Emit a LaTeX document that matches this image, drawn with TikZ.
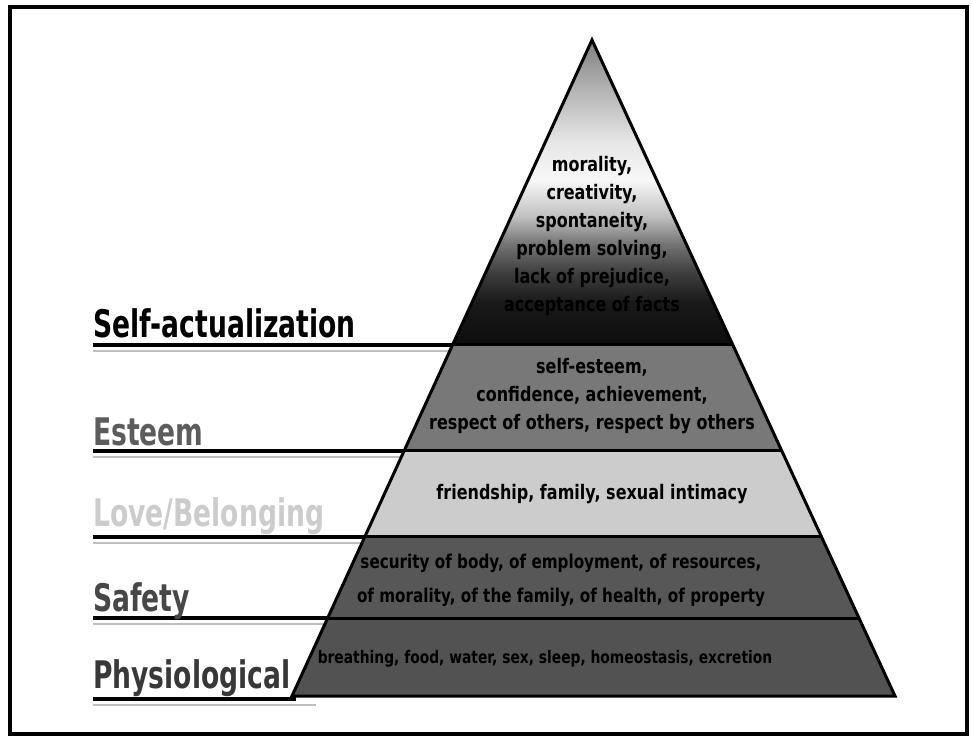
\documentclass[tikz,border=0pt]{standalone}
\usepackage{fontspec}
\newfontfamily\labfont[FakeStretch=0.7]{DejaVu Sans}
\newfontfamily\pyrfont[FakeStretch=0.8]{DejaVu Sans}
\usetikzlibrary{calc}
\definecolor{esteemc}{gray}{0.47}
\definecolor{lovec}{gray}{0.80}
\definecolor{safetyc}{gray}{0.34}
\definecolor{physc}{gray}{0.32}
\definecolor{labesteem}{gray}{0.36}
\definecolor{lablove}{gray}{0.80}
\definecolor{labsafety}{gray}{0.28}
\definecolor{labphys}{gray}{0.22}
\pgfdeclareverticalshading{selfact}{100bp}{color(0bp)=(black!95); color(25bp)=(black!95); color(32bp)=(black!90); color(37bp)=(black!75); color(41.5bp)=(black!55); color(46bp)=(black!25); color(52bp)=(black!3); color(58.5bp)=(black!10); color(67bp)=(black!30); color(75bp)=(black!50); color(100bp)=(black!50)}
\tikzset{
  pyrtext/.style={font=\pyrfont\bfseries\fontsize{20}{28}\selectfont, align=center, inner sep=0pt, text=black},
  labtext/.style={font=\labfont\bfseries\fontsize{38}{40}\selectfont, anchor=base west, inner sep=0pt},
  labline/.style={line width=3.5pt, black},
  shadline/.style={line width=1.2pt, black!25},
  edge/.style={line width=3pt, black, line join=miter}
}
\begin{document}
\begin{tikzpicture}[x=1pt,y=-1pt]
\useasboundingbox (0,0) rectangle (972,738);
\fill[white] (0,0) rectangle (972,738);
\draw[line width=4pt] (10,7) rectangle (967,734);
% geometry
\coordinate (A) at (592,40);
\coordinate (BL) at (292,696);
\coordinate (BR) at (895,696);
\coordinate (L1) at ($(A)!0.4649!(BL)$);
\coordinate (R1) at ($(A)!0.4649!(BR)$);
\coordinate (L2) at ($(A)!0.6265!(BL)$);
\coordinate (R2) at ($(A)!0.6265!(BR)$);
\coordinate (L3) at ($(A)!0.7576!(BL)$);
\coordinate (R3) at ($(A)!0.7576!(BR)$);
\coordinate (L4) at ($(A)!0.8811!(BL)$);
\coordinate (R4) at ($(A)!0.8811!(BR)$);
\coordinate (e0) at (93,0);
\coordinate (P5) at (296,699);
% label shadow lines
\draw[shadline] ($(L1 -| e0)+(0,6)$) -- ($(L1)+(0,6)$);
\draw[shadline] ($(L2 -| e0)+(0,6)$) -- ($(L2)+(0,6)$);
\draw[shadline] ($(L3 -| e0)+(0,6)$) -- ($(L3)+(0,6)$);
\draw[shadline] ($(L4 -| e0)+(0,6)$) -- ($(L4)+(0,6)$);
\draw[shadline] ($(P5 -| e0)+(0,6)$) -- ($(P5)+(20,6)$);
% layers
\shade[shading=selfact] (A) -- (L1) -- (R1) -- cycle;
\fill[esteemc] (L1) -- (L2) -- (R2) -- (R1) -- cycle;
\fill[lovec] (L2) -- (L3) -- (R3) -- (R2) -- cycle;
\fill[safetyc] (L3) -- (L4) -- (R4) -- (R3) -- cycle;
\fill[physc] (L4) -- (BL) -- (BR) -- (R4) -- cycle;
\draw[edge] (L1) -- (R1);
\draw[edge] (L2) -- (R2);
\draw[edge] (L3) -- (R3);
\draw[edge] (L4) -- (R4);
\draw[edge] (A) -- (BL) -- (BR) -- cycle;
% label lines
\draw[labline] (L1 -| e0) -- (L1);
\draw[labline] (L2 -| e0) -- (L2);
\draw[labline] (L3 -| e0) -- (L3);
\draw[labline] (L4 -| e0) -- (L4);
\draw[labline] (P5 -| e0) -- (P5);
% labels
\node[labtext, text=black] (n1) at (93,337) {Self-actualization};
\node[labtext, text=labesteem] (n2) at (93,445) {Esteem};
\node[labtext, text=lablove] (n3) at (93,526) {Love/Belonging};
\node[labtext, text=labsafety] (n4) at (93,611) {Safety};
\node[labtext, text=labphys] (n5) at (93,688) {Physiological};
% pyramid texts
\node[pyrtext] (t1) at (592,236) {morality,\\creativity,\\spontaneity,\\problem solving,\\lack of prejudice,\\acceptance of facts};
\node[pyrtext] (t2) at (592,396) {self-esteem,\\confidence, achievement,\\respect of others, respect by others};
\node[pyrtext] (t3) at (592,494) {friendship, family, sexual intimacy};
\node[pyrtext, font=\pyrfont\bfseries\fontsize{19}{34}\selectfont] (t4) at (561,580) {security of body, of employment, of resources,\\of morality, of the family, of health, of property};
\node[pyrtext, font=\pyrfont\bfseries\fontsize{17.3}{28}\selectfont] (t5) at (545,659) {breathing, food, water, sex, sleep, homeostasis, excretion};
\end{tikzpicture}
\end{document}
